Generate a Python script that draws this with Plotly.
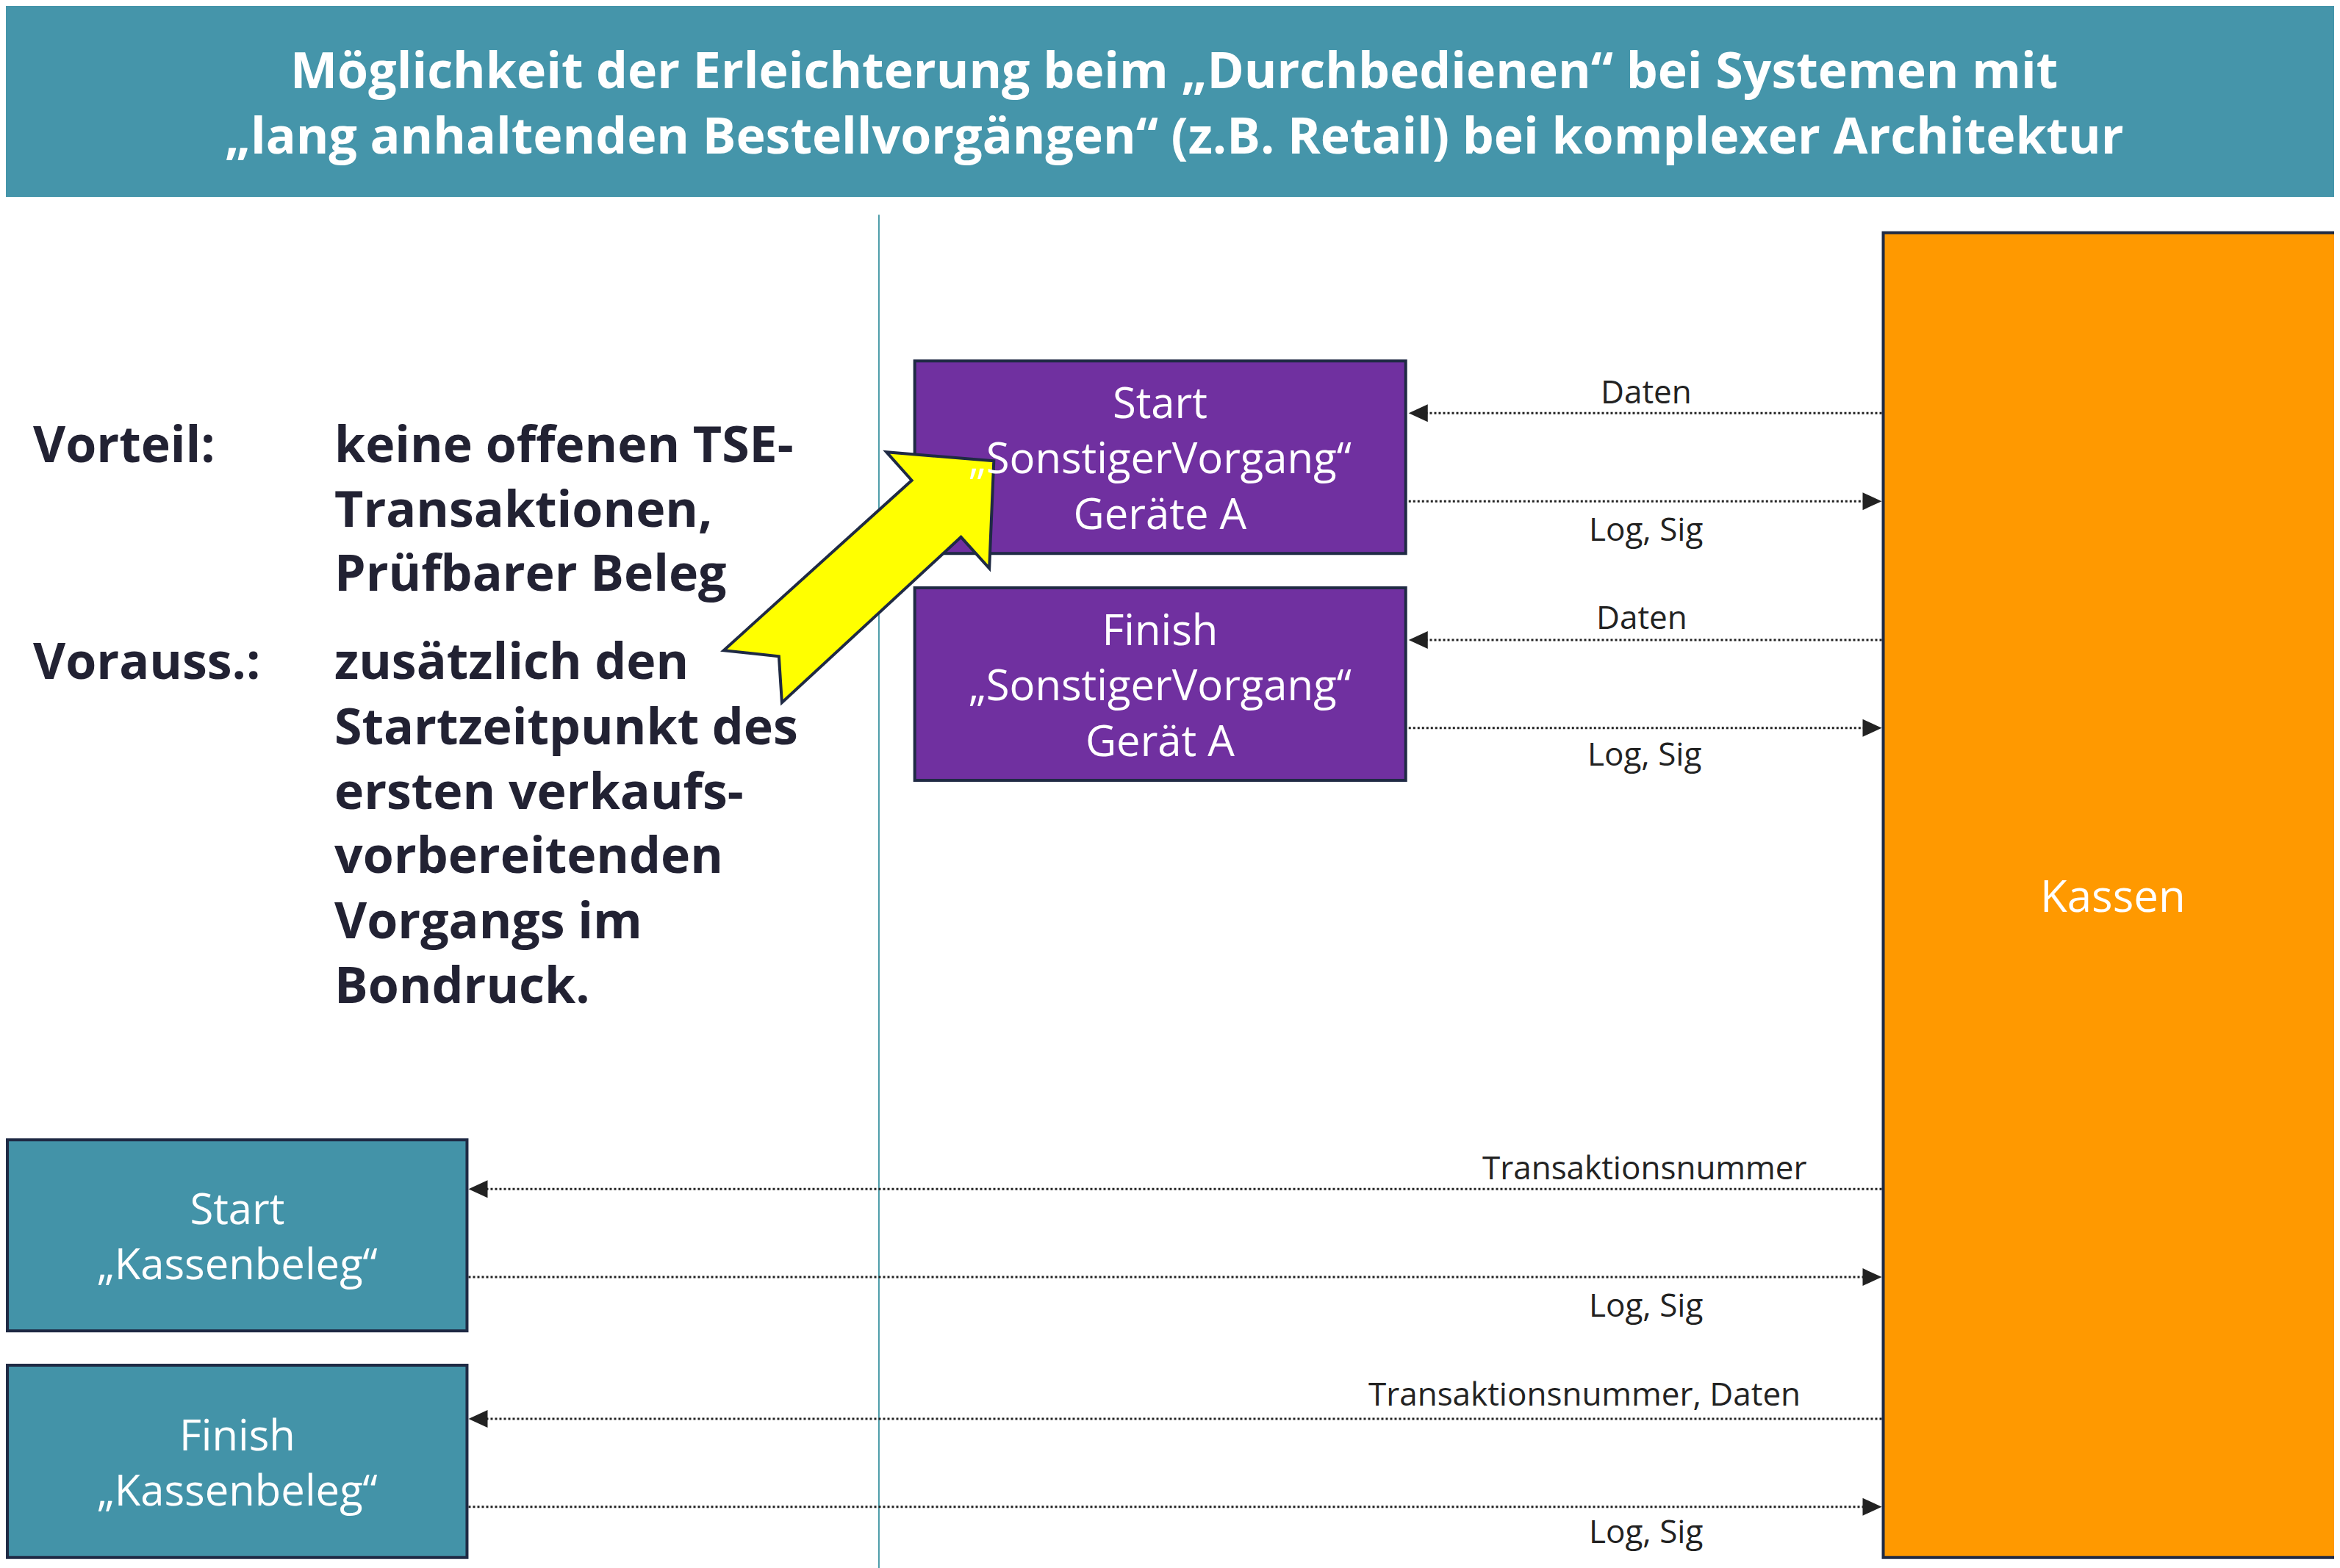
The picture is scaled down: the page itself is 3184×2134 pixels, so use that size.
import plotly.graph_objects as go

W, H = 3184, 2134
S = W / 1568  # reference layout measured at 1568 px width

title_lines = ["Möglichkeit der Erleichterung beim „Durchbedienen“ bei Systemen mit",
               "„lang anhaltenden Bestellvorgängen“ (z.B. Retail) bei komplexer Architektur"]

# boxes: label, x0, y0, x1, y1, fill
boxes = [
    ("Start<br>„SonstigerVorgang“<br>Geräte A", 609, 238, 938, 367, "#7030A0"),
    ("Finish<br>„SonstigerVorgang“<br>Gerät A", 609, 390, 938, 519, "#7030A0"),
    ("Kassen", 1258, 152, 1566, 1040, "#FF9900"),
    ("Start<br>„Kassenbeleg“", 1, 760, 309, 888, "#4393A8"),
    ("Finish<br>„Kassenbeleg“", 1, 911, 309, 1040, "#4393A8"),
]

# arrows: y, from x, to x, label, label y
arrow_y = [273, 332, 425, 484, 793, 852, 947, 1006]
arrow_from = [1257, 940, 1257, 940, 1257, 310, 1257, 310]
arrow_to = [940, 1257, 940, 1257, 310, 1257, 310, 1257]
arrow_labels = ["Daten", "Log, Sig", "Daten", "Log, Sig",
                "Transaktionsnummer", "Log, Sig", "Transaktionsnummer, Daten", "Log, Sig"]
label_y = [258, 350, 409, 501, 778, 870, 930, 1022]
label_x = [1099, 1099, 1096, 1098, 1098, 1099, 1058, 1099]

left_heads = ["Vorteil:", "Vorauss.:"]
head_y = [293, 438]
left_lines = ["keine offenen TSE-", "Transaktionen,", "Prüfbarer Beleg",
              "zusätzlich den", "Startzeitpunkt des", "ersten verkaufs-",
              "vorbereitenden", "Vorgangs im", "Bondruck."]
line_y = [293, 336, 379, 438, 482, 525, 568, 612, 655]

yellow_arrow = [(662, 305), (590, 299), (607, 318), (481, 432), (518, 436),
                (520, 467), (640, 356), (659, 377)]

def s(v):
    return v * S

fig = go.Figure()
shapes, ann = [], []
FONT = "Open Sans"

# header
shapes.append(dict(type="rect", x0=0, y0=0, x1=W, y1=s(128), fillcolor="#4595AA", line_width=0))
for i, t in enumerate(title_lines):
    ann.append(dict(x=s(783), y=s(42 + 44 * i), text="<b>%s</b>" % t, showarrow=False,
                    font=dict(family=FONT, size=68, color="white")))

# divider
shapes.append(dict(type="line", x0=s(585), x1=s(585), y0=s(140), y1=H,
                   line=dict(color="#4A9BA8", width=2)))

for label, x0, y0, x1, y1, fill in boxes:
    shapes.append(dict(type="rect", x0=s(x0), y0=s(y0), x1=s(x1), y1=s(y1),
                       fillcolor=fill, line=dict(color="#1F2A44", width=4)))
    ann.append(dict(x=s((x0 + x1) / 2), y=s((y0 + y1) / 2), text=label, showarrow=False,
                    font=dict(family=FONT, size=60 if label == "Kassen" else 58, color="white")))

for y, xa, xb, lab, ly, lx in zip(arrow_y, arrow_from, arrow_to, arrow_labels, label_y, label_x):
    d = 1 if xb > xa else -1
    shapes.append(dict(type="line", x0=s(xa), x1=s(xb) - d * 22, y0=s(y), y1=s(y),
                       line=dict(color="#222222", width=3, dash="dot")))
    tip, base = s(xb), s(xb) - d * 26
    shapes.append(dict(type="path", path="M %f %f L %f %f L %f %f Z" % (
        tip, s(y), base, s(y) - 12, base, s(y) + 12), fillcolor="#222222", line_width=0))
    ann.append(dict(x=s(lx), y=s(ly), text=lab, showarrow=False,
                    font=dict(family=FONT, size=44, color="#222222")))

for t, y in zip(left_heads, head_y):
    ann.append(dict(x=s(17), y=s(y), text="<b>%s</b>" % t, showarrow=False, xanchor="left",
                    font=dict(family=FONT, size=68, color="#222233")))
for t, y in zip(left_lines, line_y):
    ann.append(dict(x=s(219), y=s(y), text="<b>%s</b>" % t, showarrow=False, xanchor="left",
                    font=dict(family=FONT, size=68, color="#222233")))

path = "M " + " L ".join("%f %f" % (s(x), s(y)) for x, y in yellow_arrow) + " Z"
shapes.append(dict(type="path", path=path, fillcolor="#FFFF00",
                   line=dict(color="#1F2A44", width=4)))

fig.update_layout(
    width=W, height=H, margin=dict(l=0, r=0, t=0, b=0),
    plot_bgcolor="white", paper_bgcolor="white",
    xaxis=dict(range=[0, W], visible=False, fixedrange=True),
    yaxis=dict(range=[H, 0], visible=False, fixedrange=True),
    shapes=shapes, annotations=ann, showlegend=False,
)
fig.write_html("out.html")
